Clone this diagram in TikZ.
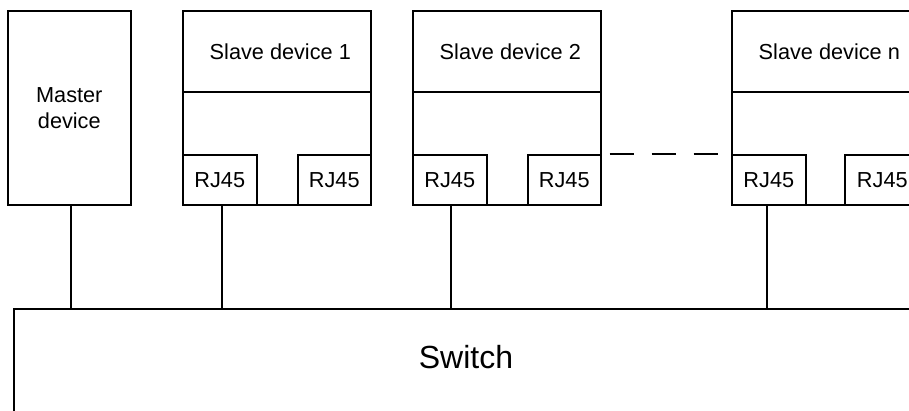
\documentclass[tikz,border=0pt]{standalone}
\usepackage{fontspec}
\setmainfont{Liberation Sans}
\begin{document}
\begin{tikzpicture}[x=1pt,y=-1pt,
  box/.style={draw, line width=1.6pt, inner sep=0pt, rectangle},
  lbl/.style={font=\fontsize{21.7}{26}\selectfont, align=center},
  wire/.style={line width=1.6pt}]
\clip (0,0) rectangle (909,410);
% master
\node[box, lbl, minimum width=123pt, minimum height=194pt, anchor=north west] (m) at (7,10) {Master\\device};
% slave 1
\node[box, minimum width=188pt, minimum height=194pt, anchor=north west] (s1) at (182,10) {};
\node[box, lbl, minimum width=188pt, minimum height=81pt, anchor=north west] (s1t) at (182,10) {\hspace{7pt}Slave device 1};
\node[box, lbl, minimum width=74pt, minimum height=50pt, anchor=south west] (s1a) at (s1.south west) {RJ45};
\node[box, lbl, minimum width=73pt, minimum height=50pt, anchor=south east] (s1b) at (s1.south east) {RJ45};
% slave 2
\node[box, minimum width=188pt, minimum height=194pt, anchor=north west] (s2) at (412,10) {};
\node[box, lbl, minimum width=188pt, minimum height=81pt, anchor=north west] (s2t) at (412,10) {\hspace{7pt}Slave device 2};
\node[box, lbl, minimum width=74pt, minimum height=50pt, anchor=south west] (s2a) at (s2.south west) {RJ45};
\node[box, lbl, minimum width=73pt, minimum height=50pt, anchor=south east] (s2b) at (s2.south east) {RJ45};
% slave n
\node[box, minimum width=188pt, minimum height=194pt, anchor=north west] (sn) at (731,10) {};
\node[box, lbl, minimum width=188pt, minimum height=81pt, anchor=north west] (snt) at (731,10) {\hspace{7pt}Slave device n};
\node[box, lbl, minimum width=74pt, minimum height=50pt, anchor=south west] (sna) at (sn.south west) {RJ45};
\node[box, lbl, minimum width=75pt, minimum height=50pt, anchor=south east] (snb) at (sn.south east) {RJ45};
% switch
\node[box, minimum width=920pt, minimum height=130pt, anchor=north west] (sw) at (13,308) {};
\node[font=\fontsize{32}{38}\selectfont] (swt) at (466,357.5) {Switch};
% wires
\draw[wire] ([xshift=1.5pt]m.south) -- ([xshift=1.5pt]m.south |- sw.north);
\draw[wire] ([xshift=2pt]s1a.south) -- ([xshift=2pt]s1a.south |- sw.north);
\draw[wire] ([xshift=1pt]s2a.south) -- ([xshift=1pt]s2a.south |- sw.north);
\draw[wire] ([xshift=-2pt]sna.south) -- ([xshift=-2pt]sna.south |- sw.north);
\draw[wire, dash pattern=on 24pt off 18pt, dash phase=34pt] (s2b.north east) -- (sna.north west);
\end{tikzpicture}
\end{document}
